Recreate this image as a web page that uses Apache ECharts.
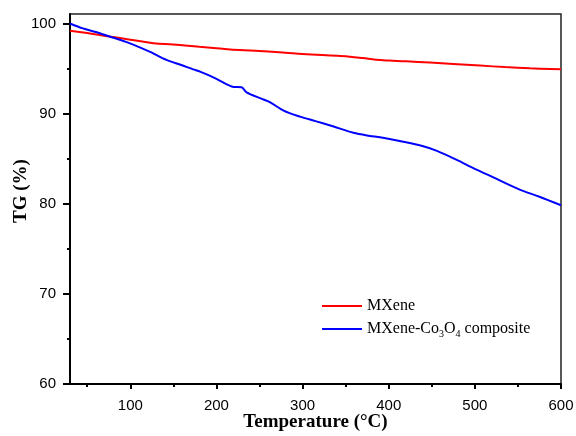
<!DOCTYPE html>
<html>
<head>
<meta charset="utf-8">
<script src="https://cdn.jsdelivr.net/npm/echarts@6/dist/echarts.min.js"></script>
<style>
    html, body { margin: 0; padding: 0; background: #fff; }
    #myChart { width: 576px; height: 436px; }
</style>
</head>
<body>
<div id="myChart"></div>
<script>
// MXene
var tempMXene = [30, 50, 76, 100, 127, 150, 180, 200, 227, 250, 280, 300, 340, 355, 370, 385, 400, 420, 448, 475, 506, 535, 564, 600];
var tgMXene = [99.25, 99.0, 98.6, 98.25, 97.85, 97.7, 97.45, 97.3, 97.1, 97.0, 96.8, 96.65, 96.45, 96.36, 96.2, 96.02, 95.93, 95.85, 95.7, 95.55, 95.37, 95.2, 95.07, 94.95];
// MXene-Co3O4 composite
var tempComposite = [30, 45, 60, 76, 95, 111, 125, 142, 160, 173, 181, 200, 220, 229, 235, 252, 262, 278, 297, 315, 336, 359, 378, 390, 417, 440, 456, 479, 500, 521, 552, 575, 600];
var tgComposite = [100.05, 99.5, 99.1, 98.6, 98.0, 97.4, 96.8, 96.0, 95.4, 94.95, 94.7, 93.9, 93.0, 92.96, 92.4, 91.7, 91.3, 90.37, 89.7, 89.2, 88.6, 87.9, 87.56, 87.4, 86.9, 86.4, 85.9, 84.9, 83.9, 82.97, 81.6, 80.8, 79.85];
// ticks
var xMajorTicks = [100, 200, 300, 400, 500, 600];
var xMinorTicks = [50, 150, 250, 350, 450, 550];
var yMajorTicks = [60, 70, 80, 90, 100];
var yMinorTicks = [65, 75, 85, 95];

function pairs(xs, ys) {
    var out = [];
    for (var i = 0; i < xs.length; i++) {
        out.push([xs[i], ys[i]]);
    }
    return out;
}

var chart = echarts.init(document.getElementById('myChart'), null, {renderer: 'canvas'});
var labelFont = {fontFamily: 'Liberation Sans', fontSize: 15, color: '#000'};
var option = {
    animation: false,
    backgroundColor: '#fff',
    grid: {
        left: 70, right: 15, top: 14, bottom: 52,
        containLabel: false,
        outerBoundsMode: 'none',
        show: true, borderColor: '#222', borderWidth: 1.5
    },
    legend: {
        orient: 'vertical',
        left: 322,
        top: 298,
        padding: 0,
        icon: 'path://M0,0 L40,0 L40,2 L0,2 Z',
        itemWidth: 40,
        itemHeight: 2,
        itemGap: 7,
        data: ['MXene', 'MXene-Co3O4 composite'],
        formatter: function (name) {
            if (name === 'MXene') {
                return '{a|MXene}';
            }
            return '{a|MXene-Co}{s|3}{a|O}{s|4}{a| composite}';
        },
        textStyle: {
            fontFamily: 'Liberation Serif',
            fontSize: 16,
            color: '#000',
            rich: {
                a: {fontFamily: 'Liberation Serif', fontSize: 16, color: '#000', lineHeight: 20},
                s: {fontFamily: 'Liberation Serif', fontSize: 10, color: '#000', verticalAlign: 'bottom', lineHeight: 20, padding: [8, 0, 0, 0]}
            }
        }
    },
    xAxis: [
        {
            type: 'value', min: 30, max: 600,
            name: 'Temperature (°C)', nameLocation: 'middle', nameGap: 29, nameMoveOverlap: false,
            nameTextStyle: {fontFamily: 'Liberation Serif', fontWeight: 'bold', fontSize: 19, color: '#000'},
            axisLine: {show: true, lineStyle: {color: '#000', width: 2}},
            axisTick: {show: true, inside: false, length: 5, customValues: xMajorTicks, lineStyle: {color: '#000', width: 2}},
            axisLabel: Object.assign({margin: 14, customValues: xMajorTicks}, labelFont),
            splitLine: {show: false}
        },
        {
            type: 'value', min: 30, max: 600, position: 'bottom',
            axisLine: {show: false},
            axisTick: {show: true, inside: false, length: 3, customValues: xMinorTicks, lineStyle: {color: '#000', width: 2}},
            axisLabel: {show: false},
            splitLine: {show: false}
        }
    ],
    yAxis: [
        {
            type: 'value', min: 60, max: 101.1,
            name: 'TG (%)', nameLocation: 'middle', nameGap: 39, nameMoveOverlap: false,
            nameTextStyle: {fontFamily: 'Liberation Serif', fontWeight: 'bold', fontSize: 19, color: '#000', padding: [0, 0, 0, 16]},
            axisLine: {show: true, lineStyle: {color: '#000', width: 2}},
            axisTick: {show: true, inside: false, length: 7, customValues: yMajorTicks, lineStyle: {color: '#000', width: 2}},
            axisLabel: Object.assign({margin: 14, customValues: yMajorTicks}, labelFont),
            splitLine: {show: false}
        },
        {
            type: 'value', min: 60, max: 101.1, position: 'left',
            axisLine: {show: false},
            axisTick: {show: true, inside: false, length: 3, customValues: yMinorTicks, lineStyle: {color: '#000', width: 2}},
            axisLabel: {show: false},
            splitLine: {show: false}
        }
    ],
    series: [
        {
            name: 'MXene',
            type: 'line',
            symbol: 'none',
            smooth: 0.4,
            data: pairs(tempMXene, tgMXene),
            lineStyle: {color: '#ff0000', width: 2},
            itemStyle: {color: '#ff0000'}
        },
        {
            name: 'MXene-Co3O4 composite',
            type: 'line',
            symbol: 'none',
            smooth: 0.3,
            data: pairs(tempComposite, tgComposite),
            lineStyle: {color: '#0000ff', width: 2},
            itemStyle: {color: '#0000ff'}
        }
    ]
};
chart.setOption(option);
</script>
</body>
</html>
